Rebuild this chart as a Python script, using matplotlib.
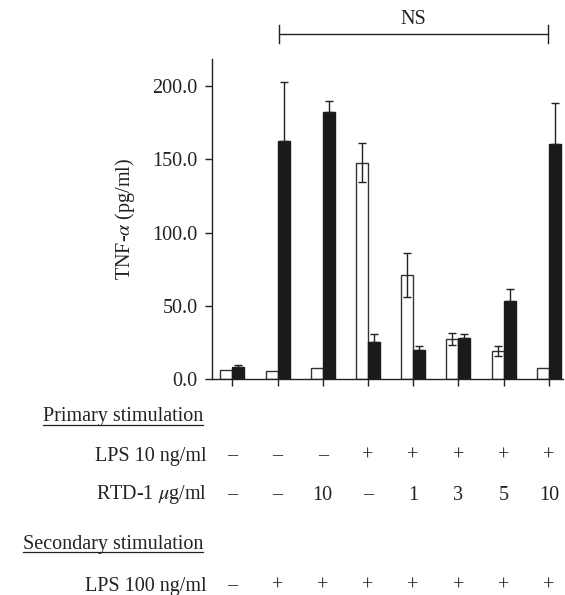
import matplotlib
matplotlib.use("Agg")
import matplotlib.pyplot as plt
import matplotlib.transforms as mtransforms
import numpy as np

plt.rcParams['font.family'] = ['Liberation Serif', 'DejaVu Serif']
plt.rcParams['mathtext.fontset'] = 'stix'
plt.rcParams['font.size'] = 14.5

# values (pg/ml)
white = [6.3, 5.9, 7.9, 147.7, 71.1, 27.5, 19.5, 7.9]
white_err = [0, 0, 0, 13.5, 15.0, 4.0, 3.5, 0]
black = [8.6, 162.5, 182.0, 25.4, 20.2, 28.4, 53.6, 160.2]
black_err = [1.2, 40.5, 8.0, 5.5, 2.7, 2.3, 7.8, 28.0]

yticks = [0, 50, 100, 150, 200]
lps10 = ['–', '–', '–', '+', '+', '+', '+', '+']
rtd1 = ['–', '–', '10', '–', '1', '3', '5', '10']
lps100 = ['–', '+', '+', '+', '+', '+', '+', '+']

W, H = 565, 595
fig = plt.figure(figsize=(W / 100, H / 100), dpi=100)
ax = fig.add_axes([211.6 / W, 1 - 379.3 / H, 351.7 / W, 320.3 / H])

x = np.arange(len(white))
bw = 0.265
ax.bar(x - bw / 2, white, bw, color='white', edgecolor='#333333', linewidth=1.0)
ax.bar(x + bw / 2, black, bw, color='#1a1a1a', edgecolor='#1a1a1a', linewidth=1.0)

for i in range(len(x)):
    if white_err[i] > 0:
        ax.errorbar(x[i] - bw / 2, white[i], yerr=white_err[i], fmt='none',
                    ecolor='#222222', elinewidth=1.0, capsize=3, capthick=1.0)
    if black_err[i] > 0:
        # lower half sits inside the black bar, so only the upper half shows
        ax.errorbar(x[i] + bw / 2, black[i], yerr=[[0], [black_err[i]]], fmt='none',
                    ecolor='#222222', elinewidth=1.0, capsize=3, capthick=1.0)

ax.set_xlim(-0.458, 7.32)
ax.set_ylim(0, 218.4)
ax.set_yticks(yticks)
ax.set_yticklabels(['%.1f' % v for v in yticks])
ax.set_xticks(x)
ax.set_xticklabels([])
ax.tick_params(direction='out', length=5, width=1, pad=5, colors='#222222')
ax.spines['top'].set_visible(False)
ax.spines['right'].set_visible(False)
for s in ['left', 'bottom']:
    ax.spines[s].set_linewidth(1.0)
    ax.spines[s].set_color('#222222')
ax.set_ylabel(r'TNF-$\alpha$ (pg/ml)', labelpad=11, color='#222222')

# NS bracket
ax.plot([1.03, 6.99], [235.4, 235.4], color='#222222', lw=1.0, clip_on=False)
ax.plot([1.03, 1.03], [229, 241.6], color='#222222', lw=1.0, clip_on=False)
ax.plot([6.99, 6.99], [229, 241.6], color='#222222', lw=1.0, clip_on=False)
ax.text(4.0, 245, 'NS', ha='center', va='center', color='#222222')

# condition table below the chart
def fy(py):
    return 1 - py / H

trans = mtransforms.blended_transform_factory(ax.transData, fig.transFigure)
fig.text(207 / W, fy(456), 'LPS 10 ng/ml', ha='right', va='center', color='#222222')
fig.text(207 / W, fy(495), r'RTD-1 $\mu$g/ml', ha='right', va='center', color='#222222')
fig.text(207 / W, fy(586), 'LPS 100 ng/ml', ha='right', va='center', color='#222222')
for i in range(len(x)):
    ax.text(x[i], fy(456), lps10[i], transform=trans, ha='center', va='center', color='#222222')
    ax.text(x[i], fy(495), rtd1[i], transform=trans, ha='center', va='center', color='#222222')
    ax.text(x[i], fy(586), lps100[i], transform=trans, ha='center', va='center', color='#222222')

heads = [fig.text(203 / W, fy(416), 'Primary stimulation', ha='right', va='center', color='#222222'),
         fig.text(203 / W, fy(545), 'Secondary stimulation', ha='right', va='center', color='#222222')]
renderer = fig.canvas.get_renderer()
for t, uy in zip(heads, [425, 552]):
    bb = t.get_window_extent(renderer)
    fig.add_artist(plt.Line2D([bb.x0 / W, bb.x1 / W], [fy(uy), fy(uy)],
                              transform=fig.transFigure, color='#222222', lw=0.9))

fig.savefig('out.png', dpi=100)
